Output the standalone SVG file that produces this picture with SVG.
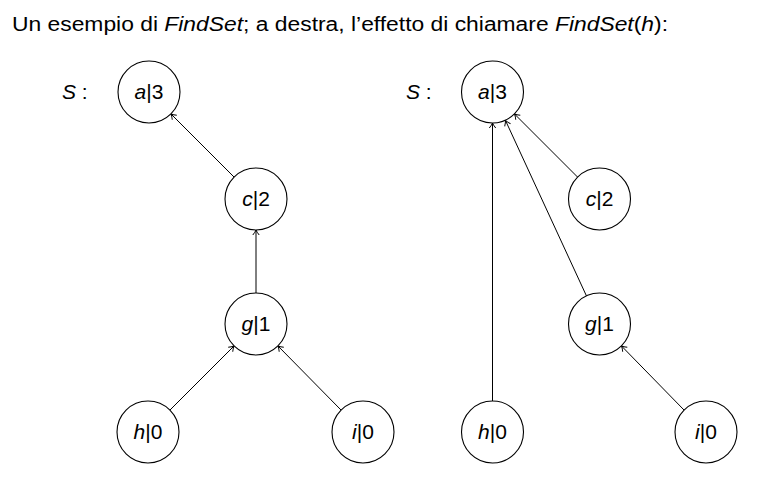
<svg xmlns="http://www.w3.org/2000/svg" width="772" height="486" viewBox="0 0 772 486">
<style>
.t{font-family:"Liberation Sans","DejaVu Sans",sans-serif;fill:#000}
.n circle{fill:#fff;stroke:#000;stroke-width:1.1}
.lbl{font-family:"Liberation Sans","DejaVu Sans",sans-serif;font-size:21px;text-anchor:middle;fill:#000}
.e line{stroke:#000;stroke-width:1;marker-end:url(#ah)}
</style>
<defs>
<marker id="ah" markerWidth="10" markerHeight="10" refX="0" refY="0" viewBox="-6 -5 8 10" orient="auto" markerUnits="userSpaceOnUse">
<path d="M-5,-3.2 Q-2,-0.8 0,0 Q-2,0.8 -5,3.2" fill="none" stroke="#000" stroke-width="1"/>
</marker>
</defs>
<rect width="772" height="486" fill="#fff"/>
<text class="t" x="12" y="31" font-size="20" textLength="656" lengthAdjust="spacingAndGlyphs">Un esempio di <tspan font-style="italic">FindSet</tspan>; a destra, l’effetto di chiamare <tspan font-style="italic">FindSet</tspan>(<tspan font-style="italic">h</tspan>):</text>
<text class="t" x="62" y="99" font-size="21"><tspan font-style="italic">S</tspan> :</text>
<text class="t" x="406" y="99" font-size="21"><tspan font-style="italic">S</tspan> :</text>
<g id="edges" class="e">
<line x1="234" y1="177" x2="171" y2="114"/>
<line x1="256" y1="293" x2="256" y2="230"/>
<line x1="170" y1="410" x2="234" y2="346"/>
<line x1="341" y1="410" x2="278" y2="346"/>
<line x1="492.5" y1="401" x2="492.5" y2="123"/>
<line x1="586.5" y1="296" x2="505.5" y2="120.5"/>
<line x1="577.5" y1="177" x2="514.5" y2="114"/>
<line x1="684" y1="410" x2="621.5" y2="346"/>
</g>
<g id="L_a" class="n"><circle cx="149" cy="92" r="31"/><text class="lbl" x="149" y="99"><tspan font-style="italic">a</tspan>|3</text></g>
<g id="L_c" class="n"><circle cx="256" cy="199" r="31"/><text class="lbl" x="256" y="206"><tspan font-style="italic">c</tspan>|2</text></g>
<g id="L_g" class="n"><circle cx="256" cy="324" r="31"/><text class="lbl" x="256" y="331"><tspan font-style="italic">g</tspan>|1</text></g>
<g id="L_h" class="n"><circle cx="148" cy="432" r="31"/><text class="lbl" x="148" y="439"><tspan font-style="italic">h</tspan>|0</text></g>
<g id="L_i" class="n"><circle cx="363" cy="432" r="31"/><text class="lbl" x="363" y="439"><tspan font-style="italic">i</tspan>|0</text></g>
<g id="R_a" class="n"><circle cx="492.5" cy="92" r="31"/><text class="lbl" x="492.5" y="99"><tspan font-style="italic">a</tspan>|3</text></g>
<g id="R_c" class="n"><circle cx="599.5" cy="199" r="31"/><text class="lbl" x="599.5" y="206"><tspan font-style="italic">c</tspan>|2</text></g>
<g id="R_g" class="n"><circle cx="599.5" cy="324" r="31"/><text class="lbl" x="599.5" y="331"><tspan font-style="italic">g</tspan>|1</text></g>
<g id="R_h" class="n"><circle cx="492.5" cy="432" r="31"/><text class="lbl" x="492.5" y="439"><tspan font-style="italic">h</tspan>|0</text></g>
<g id="R_i" class="n"><circle cx="706" cy="432" r="31"/><text class="lbl" x="706" y="439"><tspan font-style="italic">i</tspan>|0</text></g>
</svg>
